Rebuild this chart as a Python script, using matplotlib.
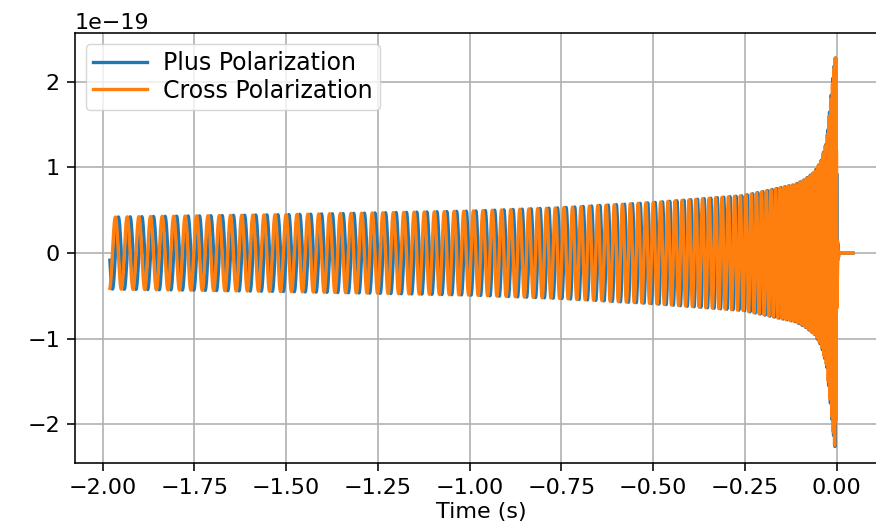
import numpy as np
import matplotlib
matplotlib.use("Agg")
import matplotlib.pyplot as plt

# ---- values ----
# envelope of the strain (units of 1e-19) at times (s)
env_time = [-1.98, -1.49, -1.00, -0.75, -0.50, -0.255, -0.21, -0.114, -0.087,
            -0.060, -0.042, -0.028, -0.019, -0.013, -0.007, -0.0035, -0.001,
            0.002, 0.006, 0.044]
env_amp = [0.42, 0.45, 0.49, 0.53, 0.59, 0.67, 0.71, 0.80, 0.86,
           0.95, 1.09, 1.31, 1.68, 1.95, 2.22, 2.32, 1.20,
           0.15, 0.0, 0.0]
# visible oscillation frequency (Hz) at times (s)
freq_time = [-1.98, -1.20, -0.60, -0.30, -0.20, -0.10, -0.04, -0.015, -0.003, 0.044]
freq_hz = [31, 35, 45, 58, 75, 100, 150, 220, 300, 300]
sample_rate = 4096
peak_time = -0.0035
scale = 1e-19

series_labels = ["Plus Polarization", "Cross Polarization"]
series_colors = ["#1f77b4", "#ff7f0e"]
x_ticks = [-2.00, -1.75, -1.50, -1.25, -1.00, -0.75, -0.50, -0.25, 0.00]
y_ticks = [-2, -1, 0, 1, 2]
x_label = "Time (s)"

# ---- build the two polarizations from the read envelope / frequency ----
t = np.arange(env_time[0], env_time[-1], 1.0 / sample_rate)
amp = np.interp(t, env_time, env_amp)
freq = np.interp(t, freq_time, freq_hz)
phase = 2 * np.pi * np.cumsum(freq) / sample_rate
phase -= np.interp(peak_time, t, phase)
h_plus = amp * np.cos(phase) * scale
h_cross = -amp * np.sin(phase) * scale

plt.rcParams['font.family'] = ['DejaVu Sans']
plt.rcParams['font.size'] = 16

fig = plt.figure(figsize=(8.76, 5.28), dpi=100)
ax = fig.add_axes([0.0856, 0.1231, 0.9275, 0.8138])

ax.plot(t, h_plus, color=series_colors[0], linewidth=2.4, label=series_labels[0])
ax.plot(t, h_cross, color=series_colors[1], linewidth=2.4, label=series_labels[1])

ax.set_xlim(-2.075, 0.138)
ax.set_ylim(-2.45 * scale, 2.565 * scale)
ax.set_xticks(x_ticks)
ax.set_yticks([v * scale for v in y_ticks])
ax.set_xlabel(x_label, labelpad=3)

ax.grid(True, color="#b0b0b0", linewidth=1.2)
ax.tick_params(length=5.8, width=1.15, pad=5)
for s in ax.spines.values():
    s.set_linewidth(1.15)

leg = ax.legend(loc="upper left", fontsize=17, handlelength=2.3, handletextpad=0.68,
                borderpad=0.3, labelspacing=0.15, borderaxespad=0.45)
for line in leg.get_lines():
    line.set_linewidth(2.4)

fig.savefig("out.png", dpi=100)
